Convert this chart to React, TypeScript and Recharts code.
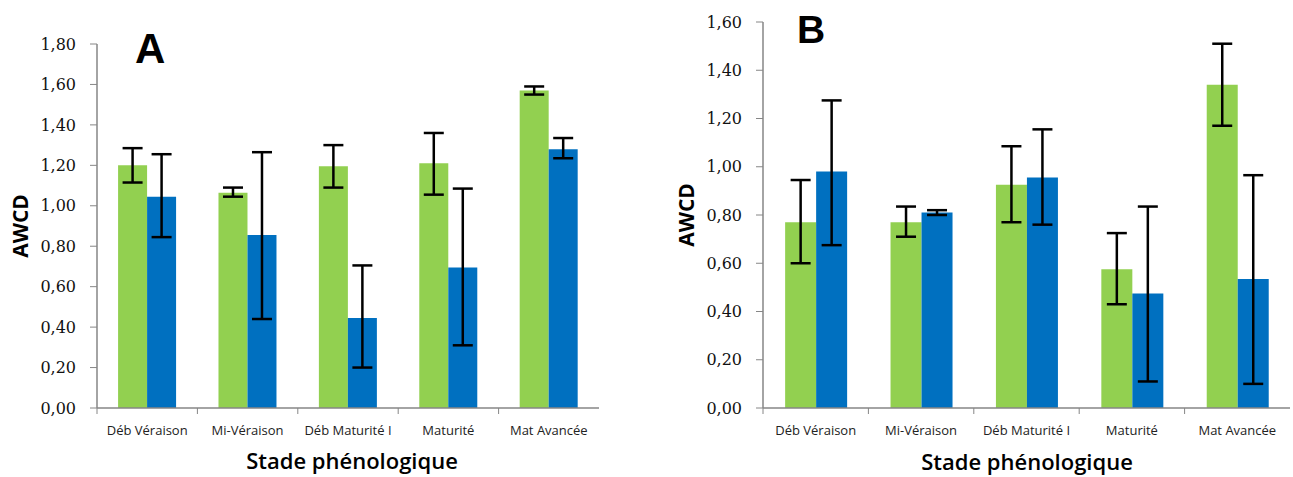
import React from 'react';
import { BarChart, Bar, XAxis, YAxis, ErrorBar } from 'recharts';

const categories = ['Déb Véraison', 'Mi-Véraison', 'Déb Maturité I', 'Maturité', 'Mat Avancée'];

const aGreen = [1.2, 1.065, 1.195, 1.21, 1.57];
const aGreenLow = [1.115, 1.045, 1.09, 1.055, 1.55];
const aGreenHigh = [1.285, 1.09, 1.3, 1.36, 1.59];
const aBlue = [1.045, 0.855, 0.445, 0.695, 1.28];
const aBlueLow = [0.845, 0.44, 0.2, 0.31, 1.235];
const aBlueHigh = [1.255, 1.265, 0.705, 1.085, 1.335];

const bGreen = [0.77, 0.77, 0.925, 0.575, 1.34];
const bGreenLow = [0.6, 0.71, 0.77, 0.43, 1.17];
const bGreenHigh = [0.945, 0.835, 1.085, 0.725, 1.51];
const bBlue = [0.98, 0.81, 0.955, 0.475, 0.535];
const bBlueLow = [0.675, 0.8, 0.76, 0.11, 0.1];
const bBlueHigh = [1.275, 0.82, 1.155, 0.835, 0.965];

const aTicks = [0, 0.2, 0.4, 0.6, 0.8, 1.0, 1.2, 1.4, 1.6, 1.8];
const bTicks = [0, 0.2, 0.4, 0.6, 0.8, 1.0, 1.2, 1.4, 1.6];

const GREEN = '#92D050';
const BLUE = '#0070C0';
const AXIS = '#868686';

function build(g: number[], gl: number[], gh: number[], b: number[], bl: number[], bh: number[]) {
  return categories.map((name, i) => ({
    name,
    green: g[i],
    greenErr: [g[i] - gl[i], gh[i] - g[i]],
    blue: b[i],
    blueErr: [b[i] - bl[i], bh[i] - b[i]],
  }));
}

const dataA = build(aGreen, aGreenLow, aGreenHigh, aBlue, aBlueLow, aBlueHigh);
const dataB = build(bGreen, bGreenLow, bGreenHigh, bBlue, bBlueLow, bBlueHigh);

const fmt = (v: number) => v.toFixed(2).replace('.', ',');

function makeTick(band: number) {
  return (props: any) => {
    const { x, y, payload } = props;
    const lx = x - band / 2;
    return (
      <g>
        <line x1={lx} y1={y} x2={lx} y2={y + 6} stroke={AXIS} strokeWidth={1} />
        <text
          x={x}
          y={y + 27}
          textAnchor="middle"
          fontFamily="'Open Sans', sans-serif"
          fontSize={13}
          fill="#222"
        >
          {payload.value}
        </text>
      </g>
    );
  };
}

function Panel(props: {
  data: any[];
  width: number;
  left: number;
  top: number;
  right: number;
  max: number;
  ticks: number[];
}) {
  const { data, width, left, top, right, max, ticks } = props;
  const yW = 57;
  const plotW = width - left - yW - right;
  const band = plotW / categories.length;
  return (
    <BarChart
      width={width}
      height={477}
      data={data}
      margin={{ top, right, bottom: 0, left }}
      barCategoryGap="21%"
      barGap={0}
    >
      <XAxis
        dataKey="name"
        height={69}
        axisLine={{ stroke: AXIS, strokeWidth: 1.5 }}
        tickLine={false}
        tickSize={0}
        tickMargin={0}
        interval={0}
        tick={makeTick(band)}
      />
      <YAxis
        width={yW}
        domain={[0, max]}
        ticks={ticks}
        tickFormatter={fmt}
        axisLine={{ stroke: AXIS, strokeWidth: 1.5 }}
        tickLine={{ stroke: AXIS }}
        tickSize={7}
        tickMargin={14}
        interval={0}
        tick={{ fill: '#111', fontFamily: "'DejaVu Serif', serif", fontSize: 16 }}
      />
      <Bar dataKey="green" fill={GREEN} isAnimationActive={false}>
        <ErrorBar dataKey="greenErr" width={10} stroke="#000" strokeWidth={2.5} direction="y" />
      </Bar>
      <Bar dataKey="blue" fill={BLUE} isAnimationActive={false}>
        <ErrorBar dataKey="blueErr" width={10} stroke="#000" strokeWidth={2.5} direction="y" />
      </Bar>
    </BarChart>
  );
}

export default function App() {
  const titleFont = "'Open Sans', sans-serif";
  return (
    <div
      style={{
        position: 'absolute',
        left: 0,
        top: 0,
        width: 1293,
        height: 477,
        background: '#fff',
        overflow: 'hidden',
      }}
    >
      <div style={{ position: 'absolute', left: 0, top: 0 }}>
        <Panel data={dataA} width={620} left={40} top={44} right={21} max={1.8} ticks={aTicks} />
      </div>
      <div style={{ position: 'absolute', left: 650, top: 0 }}>
        <Panel data={dataB} width={643} left={56} top={22} right={3} max={1.6} ticks={bTicks} />
      </div>
      <svg
        width={1293}
        height={477}
        style={{ position: 'absolute', left: 0, top: 0, pointerEvents: 'none' }}
      >
        <text x={135} y={63} fontFamily="'Liberation Sans', Arial, sans-serif" fontWeight={700} fontSize={42} fill="#000">
          A
        </text>
        <text x={797} y={43} fontFamily="'Liberation Sans', Arial, sans-serif" fontWeight={700} fontSize={39} fill="#000">
          B
        </text>
        <text
          transform="translate(28,226) rotate(-90)"
          textAnchor="middle"
          fontFamily={titleFont}
          fontWeight={700}
          fontSize={21}
          fill="#000"
        >
          AWCD
        </text>
        <text
          transform="translate(694,215) rotate(-90)"
          textAnchor="middle"
          fontFamily={titleFont}
          fontWeight={700}
          fontSize={21}
          fill="#000"
        >
          AWCD
        </text>
        <text x={352} y={469} textAnchor="middle" fontFamily={titleFont} fontWeight={600} fontSize={22} fill="#000">
          Stade phénologique
        </text>
        <text x={1027} y={470} textAnchor="middle" fontFamily={titleFont} fontWeight={600} fontSize={22} fill="#000">
          Stade phénologique
        </text>
      </svg>
    </div>
  );
}
